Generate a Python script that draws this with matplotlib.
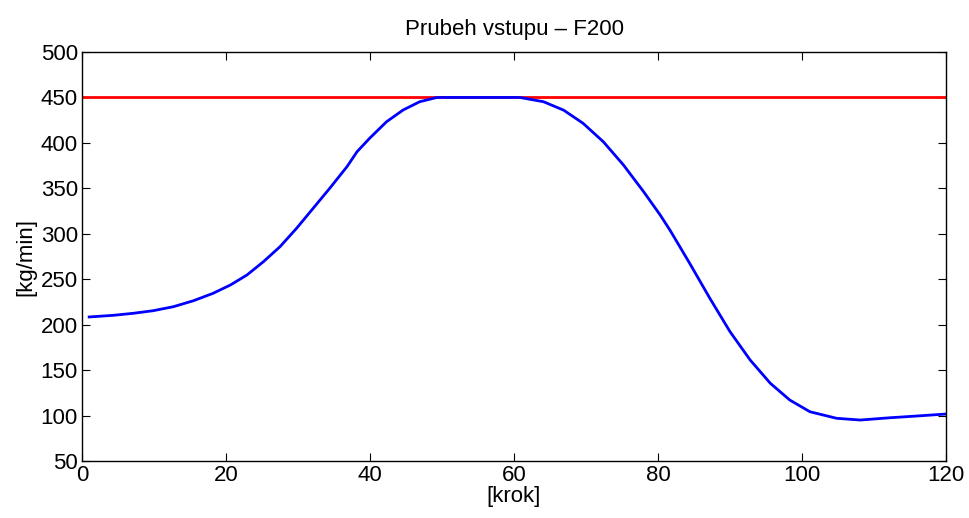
import matplotlib
matplotlib.use("Agg")
import matplotlib.pyplot as plt

plt.rcParams['font.family'] = ['Liberation Sans', 'DejaVu Sans']

# krok / vstup values
krok = [1, 4.35, 7.1, 9.9, 12.7, 15.5, 18.2, 20.6, 22.9, 25.2, 27.5, 29.8, 32.1,
        34.4, 36.8, 38.2, 40.0, 42.3, 44.6, 46.9, 49.3,
        60.8, 64.1, 66.9, 69.6, 72.4, 75.2, 78.0, 80.3, 81.7, 84.4, 87.2, 90.0,
        92.8, 95.6, 98.3, 101.1, 104.8, 108.1, 112.2, 115.9, 120]
vstup = [208.5, 210.3, 212.5, 215.4, 219.8, 226.4, 234.5, 243.6, 254.6, 269.3, 285.8, 306, 328,
         350, 373.8, 390.3, 405.5, 423.3, 436.2, 445.3, 450,
         450, 445.3, 436, 421.5, 401.3, 375.7, 346.3, 320.7, 303.5, 267.5, 229, 192.3,
         161.1, 135.5, 117.1, 104.2, 97, 95.1, 97.6, 99.5, 101.7]
limit_x = [0, 120]
limit_y = [450, 450]

fig = plt.figure(figsize=(9.69, 5.18), dpi=100)
ax = fig.add_axes([0.0846, 0.110, 0.8917, 0.7896])
ax.plot(limit_x, limit_y, color='red', lw=2)
ax.plot(krok, vstup, color='blue', lw=2, solid_joinstyle='round')
ax.set_xlim(0, 120); ax.set_ylim(50, 500)
ax.set_xticks(range(0, 121, 20)); ax.set_yticks(range(50, 501, 50))
ax.tick_params(direction='in', top=True, right=True, labelsize=16, length=6, pad=3)
for s in ax.spines.values():
    s.set_linewidth(1)
ax.set_xlabel("[krok]", fontsize=16, labelpad=0)
ax.set_ylabel("[kg/min]", fontsize=16, labelpad=3)
ax.set_title("Prubeh vstupu – F200", fontsize=16, pad=12)
fig.savefig("out.png", dpi=100)
